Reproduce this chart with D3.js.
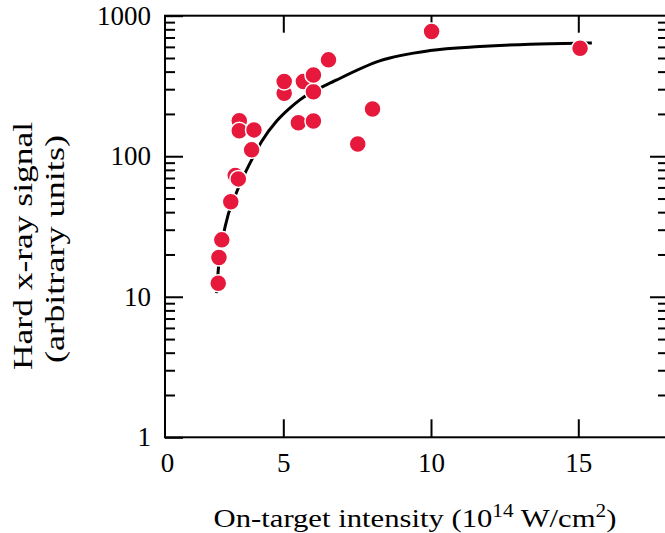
<!DOCTYPE html>
<html>
<head>
<meta charset="utf-8">
<script src="https://cdn.jsdelivr.net/npm/d3@7"></script>
<style>
body { margin: 0; background: #fff; }
text { font-family: "Liberation Serif", "DejaVu Serif", serif; }
</style>
</head>
<body>
<script>
// Width and height
var w = 665;
var h = 533;
var plotLeft = 165, plotRight = 667, plotTop = 15.7, plotBottom = 437.3;

// measured shots
var intensity = [2.25, 2.28, 2.40, 2.78, 2.97, 3.10, 3.14, 3.14, 3.76, 3.66, 5.03, 5.03, 5.68, 6.02, 6.02, 6.53, 5.51, 6.02, 7.52, 8.02, 10.02, 15.06];
var signal    = [12.5, 19.0, 25.4, 47.5, 73,   69,   179,  152,  154,  111,  281,  340,  340,  288,  379,  485,  173,  178,  122,  217,  771,  587];

// fitted curve
var fitX = [2.18, 2.25, 2.54, 3.0, 3.45, 3.66, 4.09, 4.72, 5.23, 5.56, 6.81, 8.26, 9.97, 11.66, 13.36, 14.99, 15.46];
var fitY = [10.6, 15.5, 31.5, 54,  80,   94,   128,  178,  221,  252,  349,  477,  565,  603,   627,   638,   640];

var xTicks = [0, 5, 10, 15];
var yTicks = [1, 10, 100, 1000];
var yMinor = [2, 3, 4, 5, 6, 7, 8, 9, 20, 30, 40, 50, 60, 70, 80, 90, 200, 300, 400, 500, 600, 700, 800, 900];

// the original axis is not evenly spaced below 5
var x = d3.scaleLinear().domain([0, 5, 10, 15]).range([plotLeft, 283.3, 431, 578.3]);
var y = d3.scaleLog().domain([1, 1000]).range([plotBottom, plotTop]);

var svg = d3.select("body")
            .append("svg")
            .attr("width", w)
            .attr("height", h);

var red = "#e6183c";

function tickStyle(g) {
  g.select(".domain").remove();
  g.selectAll("line").attr("stroke-width", 2);
}

function labelStyle(g) {
  g.selectAll("text").attr("font-size", "27px").attr("fill", "#000")
    .style("font-family", "'Liberation Serif', serif");
}

// axes, ticks pointing inwards
svg.append("g")
  .attr("transform", "translate(" + plotLeft + ",0)")
  .call(d3.axisLeft(y).tickValues(yTicks).tickFormat(d3.format("d")).tickSizeInner(-18).tickSizeOuter(0).tickPadding(14))
  .call(tickStyle)
  .call(labelStyle);

svg.append("g")
  .attr("transform", "translate(" + plotLeft + ",0)")
  .call(d3.axisLeft(y).tickValues(yMinor).tickFormat("").tickSizeInner(-10).tickSizeOuter(0))
  .call(tickStyle);

svg.append("g")
  .attr("transform", "translate(" + plotRight + ",0)")
  .call(d3.axisRight(y).tickValues([10, 100]).tickFormat("").tickSizeInner(-17).tickSizeOuter(0))
  .call(tickStyle);

svg.append("g")
  .attr("transform", "translate(" + plotRight + ",0)")
  .call(d3.axisRight(y).tickValues(yMinor).tickFormat("").tickSizeInner(-9).tickSizeOuter(0))
  .call(tickStyle);

svg.append("g")
  .attr("transform", "translate(0," + plotBottom + ")")
  .call(d3.axisBottom(x).tickValues(xTicks).tickFormat(d3.format("d")).tickSizeInner(-18).tickSizeOuter(0).tickPadding(16))
  .call(tickStyle)
  .call(labelStyle)
  .call(function(g) {
    g.selectAll("line").attr("opacity", function(d) { return d === 0 ? 0 : 1; });
    g.selectAll("text").attr("dx", function(d) { return d === 0 ? 2 : 0; });
  });

svg.append("g")
  .attr("transform", "translate(0," + plotTop + ")")
  .call(d3.axisTop(x).tickValues([5, 10, 15]).tickFormat("").tickSizeInner(-17).tickSizeOuter(0))
  .call(tickStyle);

// frame
svg.append("rect")
  .attr("x", plotLeft)
  .attr("y", plotTop)
  .attr("width", plotRight - plotLeft)
  .attr("height", plotBottom - plotTop)
  .attr("fill", "none")
  .attr("stroke", "black")
  .attr("stroke-width", 2);

// fit curve
var fit = fitX.map(function(d, i) { return [d, fitY[i]]; });
var line = d3.line()
  .x(function(d) { return x(d[0]); })
  .y(function(d) { return y(d[1]); })
  .curve(d3.curveMonotoneX);

svg.append("path")
  .datum(fit)
  .attr("d", line)
  .attr("fill", "none")
  .attr("stroke", "black")
  .attr("stroke-width", 3);

// data points
var shots = intensity.map(function(d, i) { return { x: d, y: signal[i] }; });
svg.selectAll("circle")
  .data(shots)
  .enter()
  .append("circle")
  .attr("cx", function(d) { return x(d.x); })
  .attr("cy", function(d) { return y(d.y); })
  .attr("r", 8.5)
  .attr("fill", red)
  .attr("stroke", "white")
  .attr("stroke-width", 1.5);

// axis titles (the original lettering is stretched along the text)
var xt = svg.append("text")
  .attr("transform", "translate(415,527) scale(1.18,1)")
  .attr("text-anchor", "middle")
  .attr("font-size", "26px")
  .attr("fill", "#000");
xt.append("tspan").text("On-target intensity (10");
xt.append("tspan").attr("dy", -10).attr("font-size", "18px").text("14");
xt.append("tspan").attr("dy", 10).text(" W/cm");
xt.append("tspan").attr("dy", -10).attr("font-size", "18px").text("2");
xt.append("tspan").attr("dy", 10).text(")");

svg.append("text")
  .attr("transform", "translate(32,246) rotate(-90)")
  .attr("text-anchor", "middle")
  .attr("font-size", "27px")
  .attr("textLength", 248)
  .attr("lengthAdjust", "spacingAndGlyphs")
  .attr("fill", "#000")
  .text("Hard x-ray signal");

svg.append("text")
  .attr("transform", "translate(64,249) rotate(-90)")
  .attr("text-anchor", "middle")
  .attr("font-size", "27px")
  .attr("textLength", 228)
  .attr("lengthAdjust", "spacingAndGlyphs")
  .attr("fill", "#000")
  .text("(arbitrary units)");
</script>
</body>
</html>
